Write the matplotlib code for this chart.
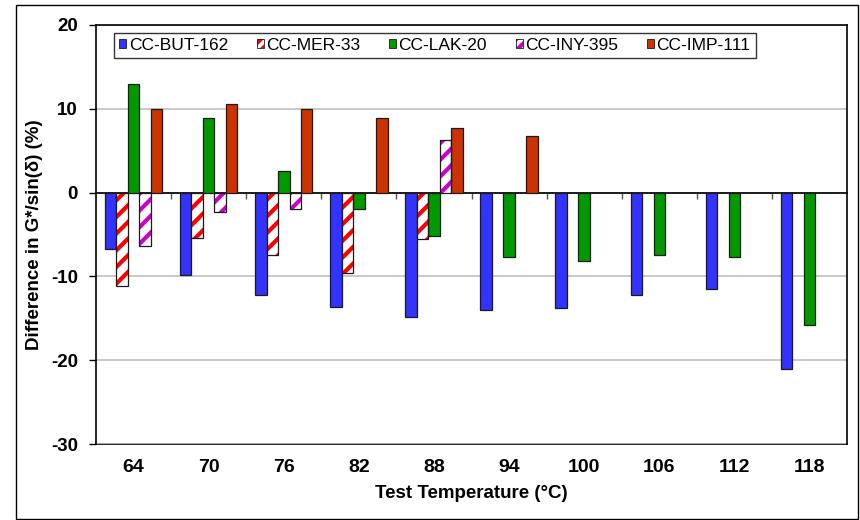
import numpy as np
import matplotlib
matplotlib.use("Agg")
import matplotlib.pyplot as plt
from matplotlib.patches import Rectangle

plt.rcParams['font.family'] = ['Liberation Sans', 'DejaVu Sans']
plt.rcParams['hatch.linewidth'] = 3.0
plt.rcParams['axes.unicode_minus'] = False

nan = np.nan
temps = ["64", "70", "76", "82", "88", "94", "100", "106", "112", "118"]
series_names = ["CC-BUT-162", "CC-MER-33", "CC-LAK-20", "CC-INY-395", "CC-IMP-111"]
but_162 = [-6.7, -9.8, -12.2, -13.7, -14.8, -14.0, -13.8, -12.2, -11.5, -21.0]
mer_33 = [-11.1, -5.4, -7.5, -9.6, -5.5, nan, nan, nan, nan, nan]
lak_20 = [13.0, 8.9, 2.6, -2.0, -5.2, -7.7, -8.2, -7.5, -7.7, -15.8]
iny_395 = [-6.4, -2.3, -2.0, nan, 6.3, nan, nan, nan, nan, nan]
imp_111 = [10.0, 10.6, 10.0, 8.9, 7.7, 6.7, nan, nan, nan, nan]

# (fill, hatch colour or None)
styles = [("#3333FF", None), ("white", "#FF0000"), ("#009900", None),
          ("white", "#CC00CC"), ("#CC3300", None)]
values = [but_162, mer_33, lak_20, iny_395, imp_111]

fig = plt.figure(figsize=(8.6, 5.2), dpi=100)
ax = fig.add_axes([0.1116, 0.146, 0.8734, 0.806])

x = np.arange(len(temps))
w = 0.153
handles = []
for i, (vals, (fc, hc)) in enumerate(zip(values, styles)):
    pos = x + (i - 2) * w
    if hc is None:
        ax.bar(pos, vals, w, color=fc, edgecolor="#1a1a1a", linewidth=0.9, zorder=3)
        handles.append(Rectangle((0, 0), 1, 1, facecolor=fc, edgecolor="#1a1a1a", linewidth=0.6))
    else:
        ax.bar(pos, vals, w, color="white", edgecolor=hc, hatch="//", linewidth=0, zorder=3)
        ax.bar(pos, vals, w, color="none", edgecolor="#1a1a1a", linewidth=0.9, zorder=4)
        handles.append((Rectangle((0, 0), 1, 1, facecolor="white", edgecolor=hc, hatch="///", linewidth=0),
                        Rectangle((0, 0), 1, 1, facecolor="none", edgecolor="#1a1a1a", linewidth=0.6)))

ax.set_ylim(-30, 20)
ax.set_xlim(-0.5, len(temps) - 0.5)
ax.set_yticks(np.arange(-30, 21, 10))
ax.tick_params(axis="y", direction="out", length=5, width=1, labelsize=13.5, pad=8)
for lab in ax.get_yticklabels():
    lab.set_fontweight("bold")
ax.yaxis.grid(True, color="#C0C0C0", linewidth=1.2, zorder=0)
ax.set_axisbelow(True)

# category axis crosses at zero, labels at the bottom
ax.spines["bottom"].set_position(("data", 0))
ax.spines["bottom"].set_linewidth(1.2)
ax.set_xticks(x[:-1] + 0.5)
ax.set_xticklabels([])
ax.tick_params(axis="x", direction="out", length=4, width=1, color="#555555")
for s in ["left", "top", "right"]:
    ax.spines[s].set_linewidth(1.2)

sec = ax.secondary_xaxis(0)
sec.set_xticks(x)
sec.set_xticklabels(temps, fontsize=14, fontweight="bold")
sec.tick_params(length=0, pad=11)
sec.spines["bottom"].set_linewidth(1.2)
sec.set_xlabel("Test Temperature (\u00b0C)", fontsize=13.5, fontweight="bold", labelpad=6)

ax.set_ylabel("Difference in G*/sin(\u03b4) (%)", fontsize=13.5, fontweight="bold", labelpad=6)

leg = ax.legend(handles, series_names, loc="upper left", bbox_to_anchor=(0.024, 0.982),
                ncol=5, fontsize=12.5, frameon=True, fancybox=False, edgecolor="black",
                handlelength=0.4, handleheight=0.45, handletextpad=0.15, columnspacing=1.65,
                borderpad=0.3, borderaxespad=0)
leg.get_frame().set_linewidth(1.0)
leg.set_zorder(10)

fig.patches.append(Rectangle((0.019, 0.002), 0.979, 0.988, transform=fig.transFigure,
                             fill=False, edgecolor="black", linewidth=1.0))

fig.savefig("out.png", dpi=100)
